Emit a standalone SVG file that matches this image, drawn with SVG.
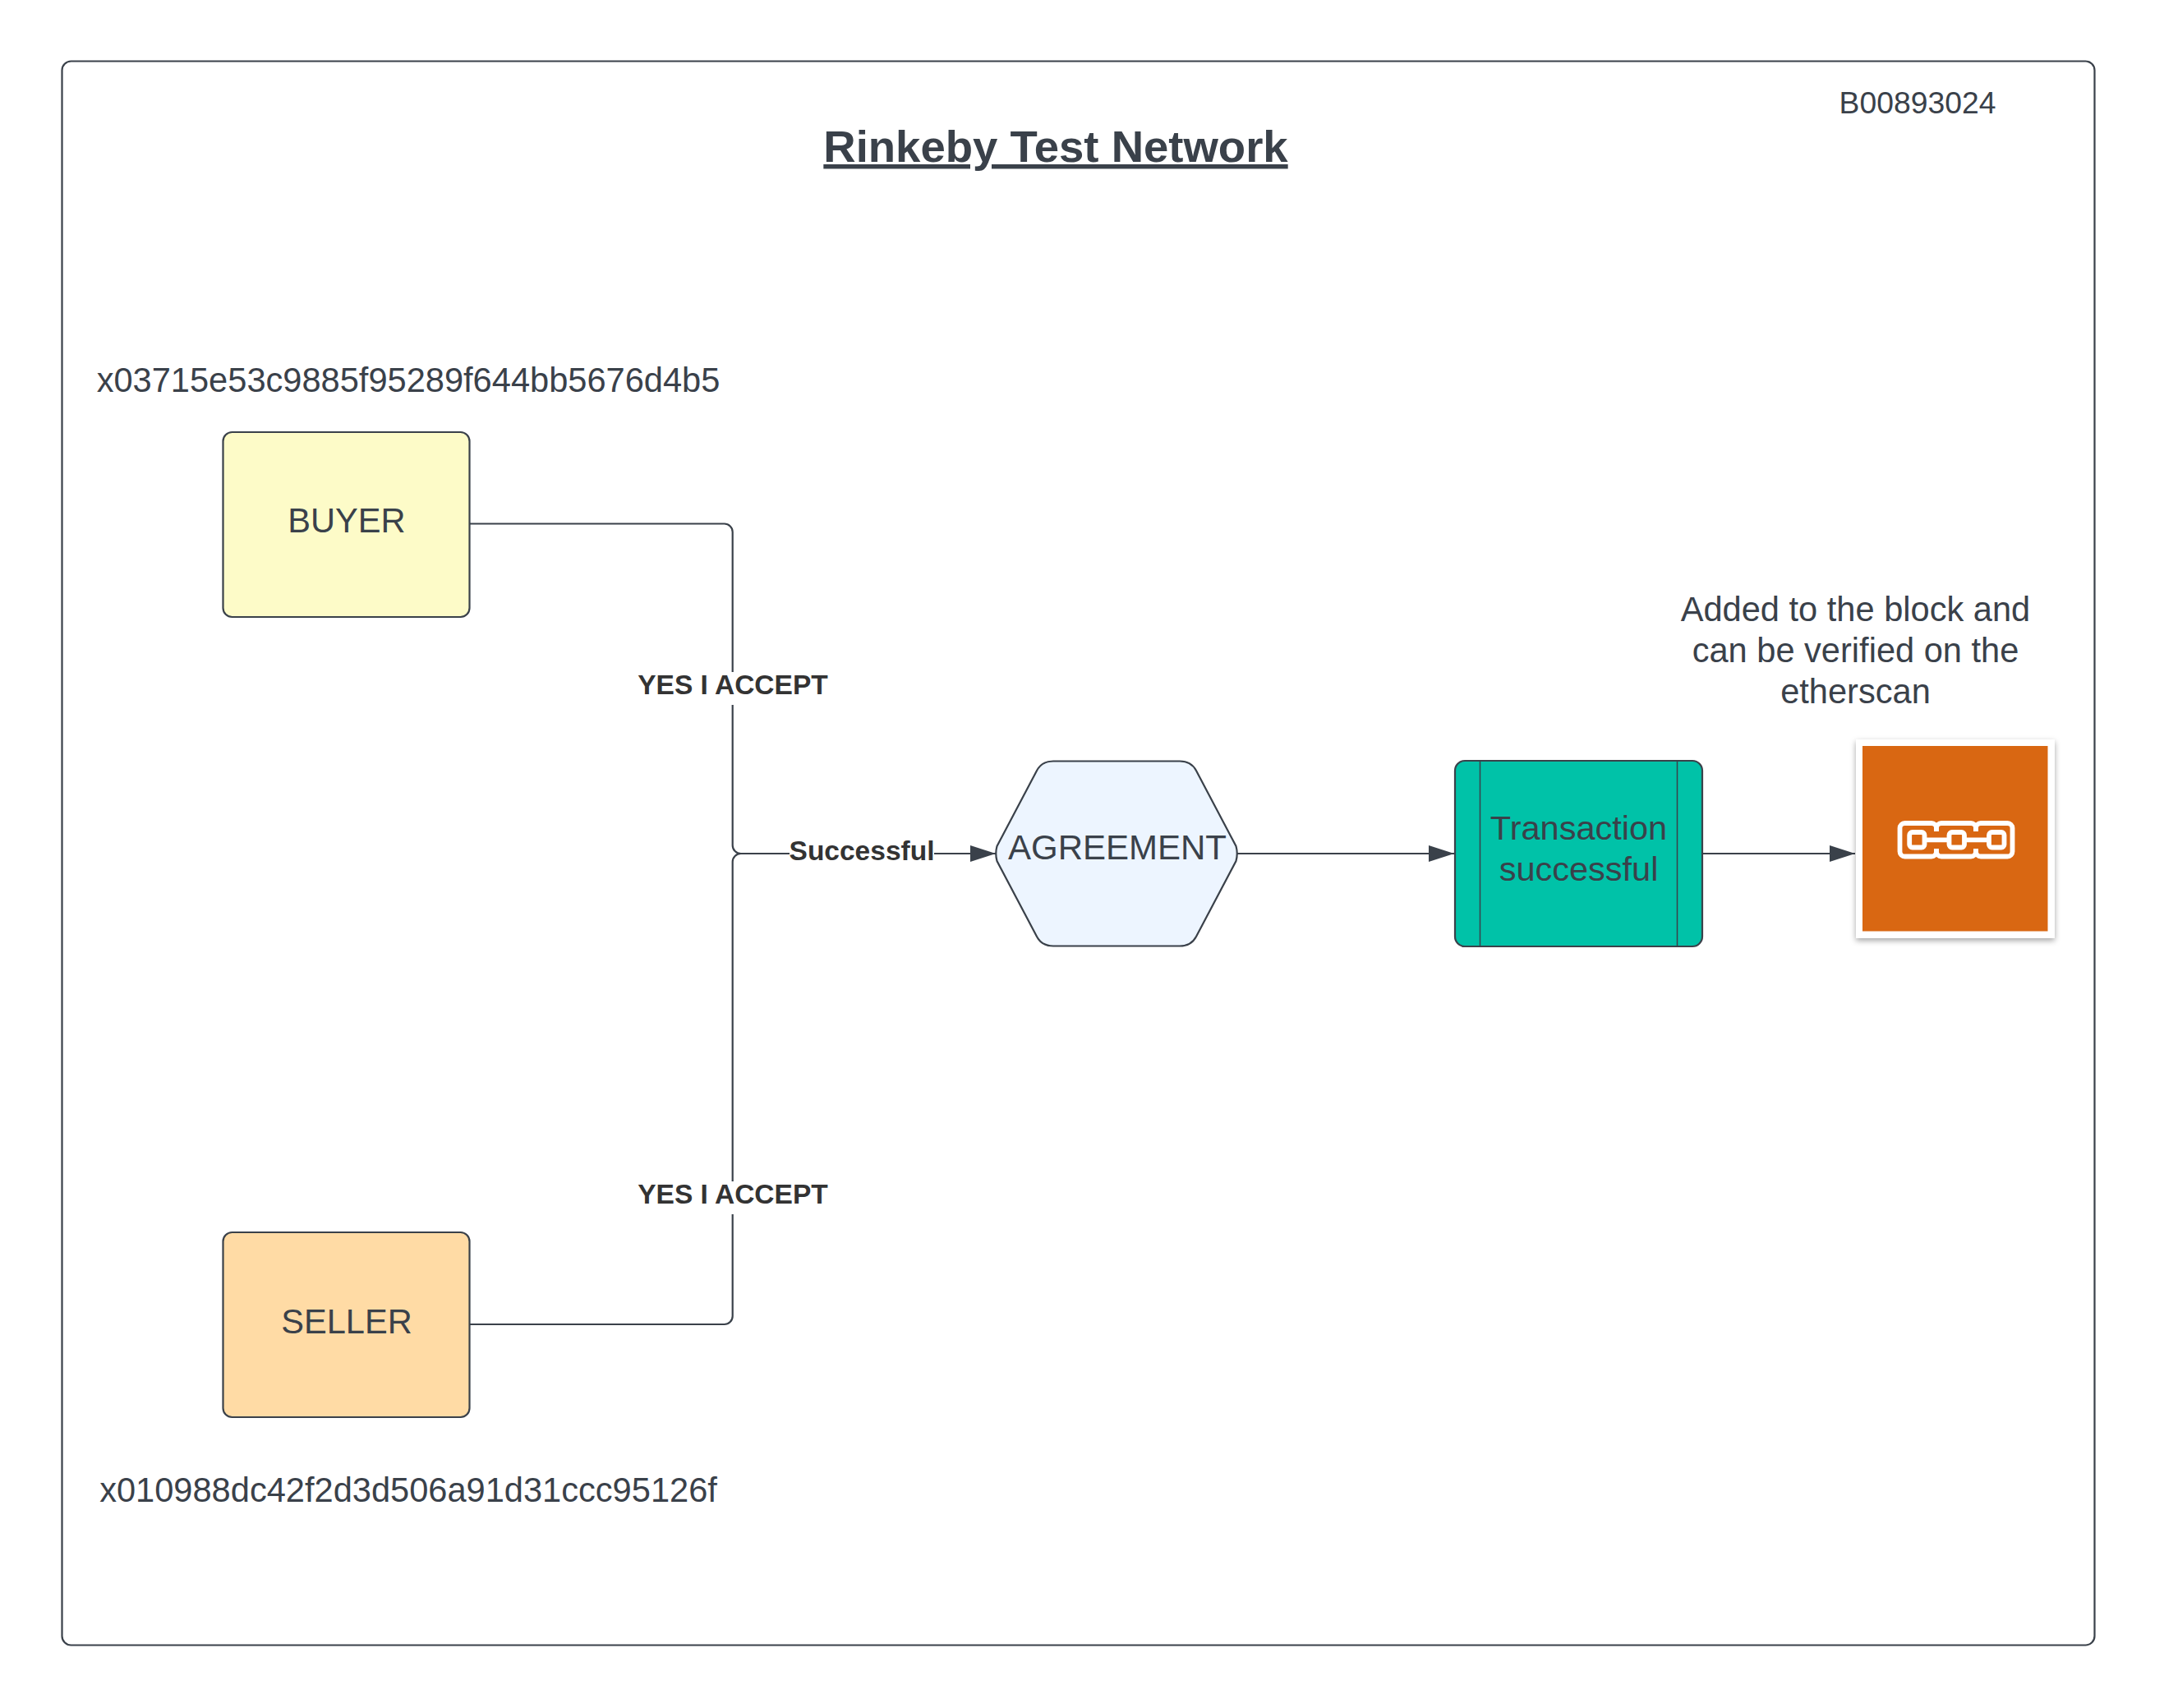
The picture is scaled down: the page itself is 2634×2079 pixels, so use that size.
<svg xmlns="http://www.w3.org/2000/svg" width="2634" height="2079" viewBox="0 0 2634 2079">
<style>
text{font-family:"Liberation Sans",Arial,sans-serif;fill:#3a414a;font-size:41.6px;text-anchor:middle}
.b{font-weight:bold;fill:#333;font-size:33.5px}
.s{fill:none;stroke:#3a414a;stroke-width:2.2}
.c{fill:none;stroke:#3a414a;stroke-width:2.2}
.i{fill:none;stroke:#fff;stroke-width:5.8}
</style>
<defs>
<marker id="a" markerUnits="userSpaceOnUse" markerWidth="32" markerHeight="22" refX="31" refY="10" orient="auto"><path d="M0 0L31 10L0 20Z" fill="#3a414a"/></marker>
<filter id="sh" x="-10%" y="-10%" width="120%" height="120%"><feDropShadow dx="0" dy="3" stdDeviation="3.5" flood-color="#000" flood-opacity=".35"/></filter>
</defs>
<rect width="2634" height="2079" fill="#fff"/>
<g id="frame"><rect class="s" x="75.500" y="74.500" width="2474" height="1928" rx="11"/></g>
<g id="title"><text x="1285" y="197" font-weight="bold" style="font-size:54.500px;text-decoration:underline">Rinkeby Test Network</text></g>
<g id="student-id"><text x="2334" y="138" style="font-size:37.300px">B00893024</text></g>
<g id="buyer-address"><text x="497" y="476.500">x03715e53c9885f95289f644bb5676d4b5</text></g>
<g id="seller-address"><text x="497" y="1828">x010988dc42f2d3d506a91d31ccc95126f</text></g>
<g id="blocknote"><text x="2258.500" y="756">Added to the block and</text><text x="2258.500" y="806">can be verified on the</text><text x="2258.500" y="856">etherscan</text></g>
<g id="connectors">
<path class="c" d="M571 637.500H881.700a10 10 0 0 1 10 10V1029a10 10 0 0 0 10 10H1212" marker-end="url(#a)"/>
<path class="c" d="M571 1612H881.700a10 10 0 0 0 10-10V1049a10 10 0 0 1 10-10H1212"/>
<path class="c" d="M1506 1039H1770" marker-end="url(#a)"/>
<path class="c" d="M2072 1039H2258" marker-end="url(#a)"/>
<rect x="775" y="818" width="234" height="40" fill="#fff"/><text class="b" x="892" y="845">YES I ACCEPT</text>
<rect x="775" y="1438" width="234" height="40" fill="#fff"/><text class="b" x="892" y="1465">YES I ACCEPT</text>
<rect x="961" y="1015" width="176" height="46" fill="#fff"/><text class="b" x="1049" y="1047">Successful</text>
</g>
<g id="buyer"><rect class="s" x="271.500" y="526" width="300" height="225" rx="11" style="fill:#fdfbc8"/><text x="422" y="647.500">BUYER</text></g>
<g id="seller"><rect class="s" x="271.500" y="1500" width="300" height="225" rx="11" style="fill:#ffdba5"/><text x="422" y="1623">SELLER</text></g>
<g id="agreement"><path class="s" style="fill:#edf5ff" d="M1213.500 1030L1262 938Q1268 926.500 1282 926.500H1436Q1450 926.500 1456 938L1504.500 1030Q1507 1039 1504.500 1048L1456 1140Q1450 1151.500 1436 1151.500H1282Q1268 1151.500 1262 1140L1213.500 1048Q1211 1039 1213.500 1030Z"/><text x="1360" y="1046" style="font-size:42px">AGREEMENT</text></g>
<g id="transaction"><rect class="s" x="1771" y="926" width="301" height="226" rx="12" style="fill:#00c2a8"/><path d="M1801.500 926V1152M2041.500 926V1152" fill="none" stroke="#3a414a" stroke-width="1.500"/><text x="1921.500" y="1022" style="font-size:41.500px">Transaction</text><text x="1921.500" y="1072" style="font-size:41.500px">successful</text></g>
<g id="block"><rect x="2259" y="900" width="242" height="242" fill="#fff" filter="url(#sh)"/><rect x="2267" y="908" width="225.500" height="225.500" fill="#d96712"/>
<path class="i" d="M2357 1012V1008a6 6 0 0 0-6-6H2318.500a6 6 0 0 0-6 6V1036.500a6 6 0 0 0 6 6H2351a6 6 0 0 0 6-6V1033"/>
<path class="i" d="M2357 1012V1008a6 6 0 0 1 6-6H2399a6 6 0 0 1 6 6V1012M2357 1033V1036.500a6 6 0 0 0 6 6H2399a6 6 0 0 0 6-6V1033"/>
<path class="i" d="M2405 1012V1008a6 6 0 0 1 6-6H2443.500a6 6 0 0 1 6 6V1036.500a6 6 0 0 1-6 6H2411a6 6 0 0 1-6-6V1033"/>
<path class="i" d="M2342 1022.300H2372M2391 1022.300H2421"/>
<rect class="i" x="2324.200" y="1013" width="18.300" height="18.500" rx="3.500"/><rect class="i" x="2372.500" y="1013" width="18.500" height="18.500" rx="3.500"/><rect class="i" x="2421" y="1013" width="18.500" height="18.500" rx="3.500"/></g>
</svg>
